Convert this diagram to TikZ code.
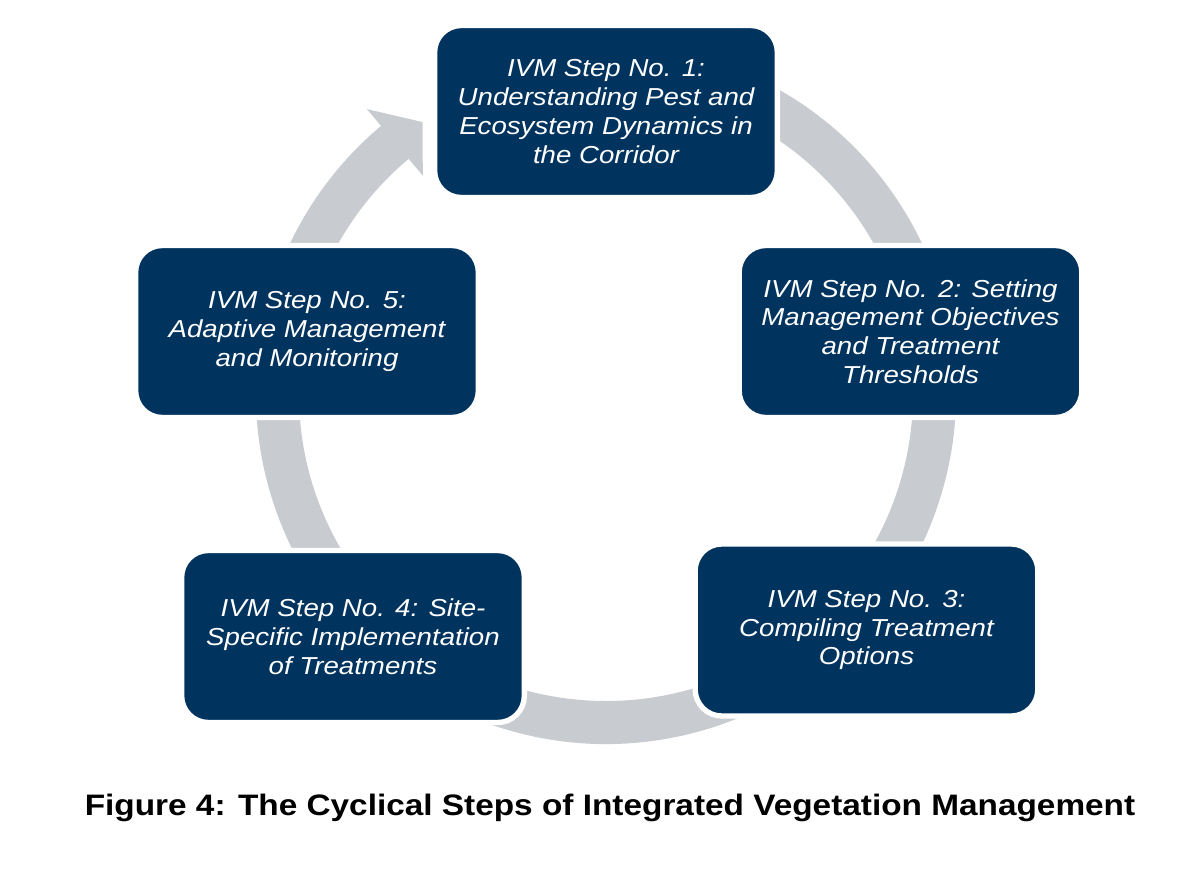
\documentclass[tikz,border=0pt]{standalone}
\usepackage{fontspec}
\newfontfamily\boxfont[FakeStretch=1.127]{Liberation Sans}
\definecolor{ivmblue}{RGB}{0,52,95}
\definecolor{ringgray}{RGB}{200,203,208}
\begin{document}
\begin{tikzpicture}[x=0.75pt, y=0.75pt,
    stepbox/.style={fill=ivmblue, draw=white, line width=4pt, rounded corners=20pt,
        minimum width=257pt, minimum height=129pt, align=center, text=white,
        font=\boxfont\itshape\fontsize{18.4}{21.6}\selectfont}]

        \useasboundingbox (-606,-487) rectangle (596,394);

        % grey cycle arrow behind the steps
        \fill[ringgray] (70:350) arc[start angle=70, end angle=-230, radius=350]
            -- (130:372) -- (124:328) -- (130:285) -- (130:307)
            arc[start angle=-230, end angle=70, radius=307] -- cycle;

        \node[stepbox] at (0,282.5) (step1) {IVM Step No. 1:\\Understanding Pest and\\Ecosystem Dynamics in\\the Corridor};
        \node[stepbox] at (304.5,62.5) (step2) {IVM Step No. 2: Setting\\Management Objectives\\and Treatment\\Thresholds};
        \node[stepbox] at (260.5,-236) (step3) {IVM Step No. 3:\\Compiling Treatment\\Options};
        \node[stepbox] at (-253,-242.5) (step4) {IVM Step No. 4: Site-\\Specific Implementation\\of Treatments};
        \node[stepbox] at (-299,62.5) (step5) {IVM Step No. 5:\\Adaptive Management\\and Monitoring};

        \node[font=\boxfont\bfseries\fontsize{22.2}{26}\selectfont] at (4,-414) (caption)
            {Figure 4: The Cyclical Steps of Integrated Vegetation Management};

    \end{tikzpicture}
\end{document}
